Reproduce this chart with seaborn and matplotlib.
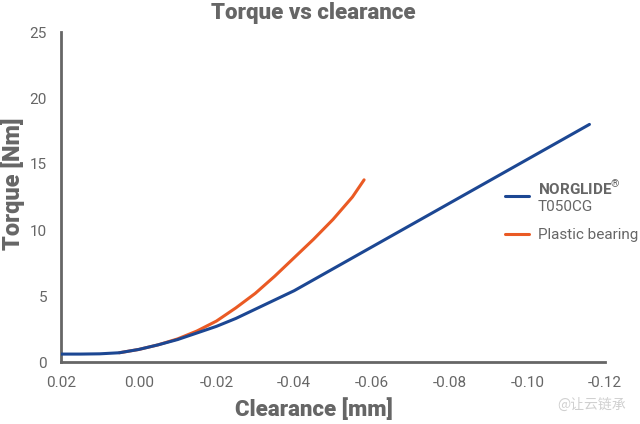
import matplotlib
matplotlib.use("Agg")
import matplotlib.pyplot as plt
import seaborn as sns
import pandas as pd

# Data
norglide_x = [0.02, 0.015, 0.01, 0.005, 0.0, -0.005, -0.01, -0.015, -0.02, -0.025, -0.03, -0.035, -0.04, -0.116]
norglide_y = [0.6, 0.6, 0.62, 0.7, 0.95, 1.3, 1.7, 2.2, 2.7, 3.3, 4.0, 4.7, 5.4, 18.0]
plastic_x = [0.005, 0.0, -0.005, -0.01, -0.015, -0.02, -0.025, -0.03, -0.035, -0.04, -0.045, -0.05, -0.055, -0.058]
plastic_y = [0.7, 0.95, 1.3, 1.75, 2.35, 3.1, 4.1, 5.2, 6.5, 7.9, 9.3, 10.8, 12.5, 13.8]
x_ticks = [0.02, 0.00, -0.02, -0.04, -0.06, -0.08, -0.10, -0.12]
y_ticks = [0, 5, 10, 15, 20, 25]
series_names = ["$\\mathbf{NORGLIDE}^{®}$\nT050CG", "Plastic bearing"]

sns.set_theme(style="white")
plt.rcParams["font.family"] = ["Roboto", "DejaVu Sans"]
plt.rcParams["mathtext.fontset"] = "custom"
plt.rcParams["mathtext.rm"] = "Roboto"
plt.rcParams["mathtext.bf"] = "Roboto:bold"

GRAY = "#666666"
BLUE = "#1c4793"
ORANGE = "#ea5a24"

W, H = 640, 424

df_b = pd.DataFrame({"x": norglide_x, "y": norglide_y})
df_o = pd.DataFrame({"x": plastic_x, "y": plastic_y})

fig = plt.figure(figsize=(6.4, 4.24), dpi=100)
ax = fig.add_axes([61 / W, 1 - 362 / H, (605 - 61) / W, (362 - 32) / H])

sns.lineplot(data=df_o, x="x", y="y", ax=ax, color=ORANGE, linewidth=2.2, label=series_names[1], zorder=2)
sns.lineplot(data=df_b, x="x", y="y", ax=ax, color=BLUE, linewidth=2.2, label=series_names[0], zorder=3)

ax.set_xlim(0.02, -0.12)
ax.set_ylim(0, 25)
ax.set_xticks(x_ticks)
ax.set_xticklabels([f"{v:.2f}" for v in x_ticks])
ax.set_yticks(y_ticks)

for s in ["top", "right"]:
    ax.spines[s].set_visible(False)
for s in ["left", "bottom"]:
    ax.spines[s].set_color(GRAY)
    ax.spines[s].set_linewidth(2)

ax.tick_params(axis="both", direction="in", length=6, width=1.5, color=GRAY,
               labelcolor=GRAY, labelsize=11, pad=10)

ax.set_xlabel("")
ax.set_ylabel("")
fig.text(314 / W, 1 - 410 / H, "Clearance [mm]", fontsize=16, fontweight="heavy", color=GRAY,
         ha="center", va="center")
fig.text(12 / W, 1 - 184 / H, "Torque [Nm]", fontsize=17, fontweight="heavy", color=GRAY,
         ha="center", va="center", rotation=90)
fig.text(313 / W, 1 - 13 / H, "Torque vs clearance", fontsize=16, fontweight="heavy", color=GRAY,
         ha="center", va="center")

handles, labels = ax.get_legend_handles_labels()
order = [1, 0]
leg = ax.legend([handles[i] for i in order], [labels[i] for i in order],
                loc="upper left", bbox_to_anchor=(505 / W, 1 - 179 / H), bbox_transform=fig.transFigure,
                frameon=False, fontsize=11, handlelength=1.6, handletextpad=0.55,
                labelspacing=0.95, borderaxespad=0, borderpad=0)
for t in leg.get_texts():
    t.set_color(GRAY)

fig.text(0.978, 0.045, "@让云链承", fontsize=10, color="#d0d0d0", ha="right", va="center",
         family=["Noto Sans CJK SC", "DejaVu Sans"])

fig.savefig("out.png", dpi=100)
